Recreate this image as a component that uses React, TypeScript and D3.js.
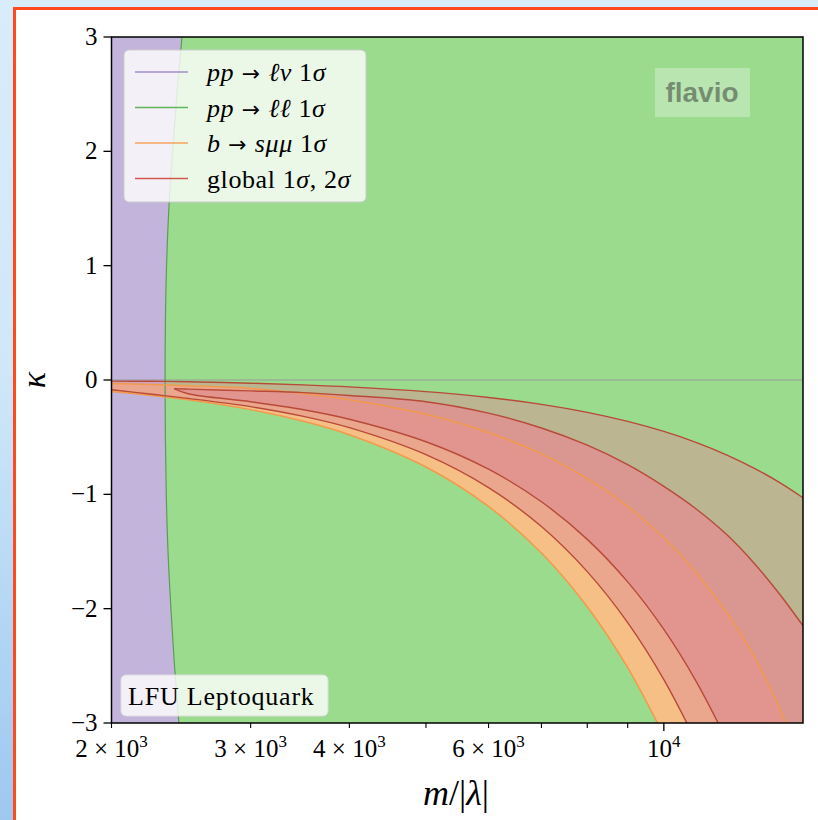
import React from 'react';
import * as d3 from 'd3';

// m/|lambda| grid for the b->smumu and global 2sigma curves
const mGrid = [2000, 2250, 2500, 3000, 3500, 4000, 5000, 6000, 7000, 8000, 9000, 10000, 11000, 12000, 13000, 14000, 15000];
// b -> s mu mu 1 sigma band
const bsmmUpper = [-0.03, -0.04, -0.05, -0.075, -0.12, -0.172, -0.3, -0.459, -0.646, -0.861, -1.105, -1.38, -1.69, -2.03, -2.41, -2.87, -3.4];
const bsmmLower = [-0.1, -0.136, -0.173, -0.259, -0.361, -0.479, -0.761, -1.106, -1.513, -1.983, -2.516, -3.112];
// global 2 sigma contour
const glob2Upper = [-0.01, -0.011, -0.015, -0.028, -0.043, -0.06, -0.102, -0.153, -0.213, -0.283, -0.362, -0.45, -0.547, -0.654, -0.77, -0.895, -1.03];
const glob2Lower = [-0.085, -0.125, -0.161, -0.233, -0.318, -0.417, -0.653, -0.941, -1.282, -1.676, -2.122, -2.62, -3.17];
// global 1 sigma contour (starts at its tip)
const m1s = [2400, 2500, 3000, 3500, 4000, 5000, 6000, 7000, 8000, 9000, 10000, 11000, 12000, 13000, 14000, 15000];
const glob1Upper = [-0.075, -0.08, -0.095, -0.11, -0.135, -0.19, -0.29, -0.42, -0.57, -0.74, -0.93, -1.13, -1.35, -1.6, -1.87, -2.15];
const glob1Lower = [-0.075, -0.12, -0.19, -0.26, -0.343, -0.54, -0.78, -1.065, -1.394, -1.766, -2.182, -2.642, -3.146];
// pp -> l nu / pp -> ll boundary
const kappaEdge = [3, 2.5, 2, 1.5, 1, 0.5, 0, -0.5, -1, -1.5, -2, -2.5, -3];
const mEdge = [2456, 2420, 2390, 2364, 2348, 2340, 2338, 2340, 2346, 2358, 2378, 2403, 2434];

const yTicks = [-3, -2, -1, 0, 1, 2, 3];
const xMinorTicks = [2000, 3000, 4000, 5000, 6000, 7000, 8000, 9000];
const xMajorTicks = [10000];
const xLabelValues = [2000, 3000, 4000, 6000, 10000];
const xLabelMant = ['2', '3', '4', '6', ''];

const legendColors = ['#a08ecb', '#62b45d', '#f6a35c', '#d4574e'];

const serif = '"Liberation Serif", "DejaVu Serif", serif';
const arrowFont = '"DejaVu Sans", sans-serif';

type P = [number, number];

export default function App() {
  const left = 111.5, right = 803, top = 37, bottom = 723;
  const x = d3.scaleLog().domain([2000, 15000]).range([left, right]);
  const y = d3.scaleLinear().domain([-3, 3]).range([bottom, top]);

  const line = d3.line<P>()
    .x(d => x(d[0]))
    .y(d => y(d[1]))
    .curve(d3.curveCatmullRom.alpha(0.5));

  const pts = (ms: number[], ks: number[]): P[] => ks.map((k, i) => [ms[i], k]);

  // closed shape: upper forward, round outside the plot, lower back
  const band = (upper: P[], lower: P[]) => {
    const a = line(upper)!;
    const b = line(lower.slice().reverse())!.replace(/^M/, 'L');
    return `${a}L${x(20000)},${y(-10)}${b}Z`;
  };

  const oUp = pts(mGrid, bsmmUpper);
  const oLo = pts(mGrid, bsmmLower);
  const r2Up = pts(mGrid, glob2Upper);
  const r2Lo = pts(mGrid, glob2Lower);
  const r1Up = pts(m1s, glob1Upper);
  const r1Lo = pts(m1s, glob1Lower);
  const edge = pts(mEdge, kappaEdge);

  const purplePath = `${line(edge)}L${x(1800)},${y(-3.5)}L${x(1800)},${y(3.5)}Z`;

  const arrow = <tspan fontFamily={arrowFont} fontSize={22}> → </tspan>;
  const legendRows = [
    <>
      <tspan fontStyle="italic">pp</tspan>{arrow}<tspan fontStyle="italic">ℓν</tspan> 1<tspan fontStyle="italic">σ</tspan>
    </>,
    <>
      <tspan fontStyle="italic">pp</tspan>{arrow}<tspan fontStyle="italic">ℓℓ</tspan> 1<tspan fontStyle="italic">σ</tspan>
    </>,
    <>
      <tspan fontStyle="italic">b</tspan>{arrow}<tspan fontStyle="italic">sμμ</tspan> 1<tspan fontStyle="italic">σ</tspan>
    </>,
    <>
      global 1<tspan fontStyle="italic">σ</tspan>, 2<tspan fontStyle="italic">σ</tspan>
    </>,
  ];

  return (
    <svg width={818} height={820} style={{ position: 'absolute', left: 0, top: 0, display: 'block' }}>
      <defs>
        <linearGradient id="bg" x1="0" y1="0" x2="0" y2="1">
          <stop offset="0%" stopColor="#d9ecfb" />
          <stop offset="45%" stopColor="#d0e7fa" />
          <stop offset="100%" stopColor="#9dc8f0" />
        </linearGradient>
        <clipPath id="plot">
          <rect x={left} y={top} width={right - left} height={bottom - top} />
        </clipPath>
      </defs>
      <rect width={818} height={820} fill="url(#bg)" />
      <rect x={14.5} y={8.5} width={900} height={900} fill="#fff" stroke="#ff4a1c" strokeWidth={3} />

      <g clipPath="url(#plot)">
        <rect x={left} y={top} width={right - left} height={bottom - top} fill="#9bdb8e" />
        <path d={purplePath} fill="#c3b4dc" />
        <path d={band(oUp, oLo)} fill="#f6bf86" />
        <path d={band(r2Up, r2Lo) + band(r1Up, r1Lo)} fill="#de9096" fillOpacity={0.5} fillRule="evenodd" />
        <path d={band(r1Up, r1Lo)} fill="#df9090" fillOpacity={0.92} />
        <line x1={left} x2={right} y1={y(0)} y2={y(0)} stroke="#9a9a9a" strokeWidth={1.2} />
        <path d={line(edge)!} fill="none" stroke="#5e9a58" strokeWidth={1.2} />
        {[oUp, oLo].map((c, i) => (
          <path key={'o' + i} d={line(c)!} fill="none" stroke="#f29a4c" strokeWidth={1.5} />
        ))}
        {[r2Up, r2Lo, r1Up, r1Lo].map((c, i) => (
          <path key={'r' + i} d={line(c)!} fill="none" stroke="#b84a38" strokeWidth={1.4} />
        ))}
      </g>

      {/* axes frame */}
      <rect x={left} y={top} width={right - left} height={bottom - top} fill="none" stroke="#000" strokeWidth={1.5} />

      {yTicks.map(t => (
        <g key={'y' + t}>
          <line x1={left - 8} x2={left} y1={y(t)} y2={y(t)} stroke="#000" strokeWidth={1.3} />
          <text x={left - 14} y={y(t) + 8} textAnchor="end" fontFamily={serif} fontSize={25}>
            {t < 0 ? '−' + Math.abs(t) : String(t)}
          </text>
        </g>
      ))}
      {xMinorTicks.map(t => (
        <line key={'xm' + t} x1={x(t)} x2={x(t)} y1={bottom} y2={bottom + 5} stroke="#000" strokeWidth={1.1} />
      ))}
      {xMajorTicks.map(t => (
        <line key={'xM' + t} x1={x(t)} x2={x(t)} y1={bottom} y2={bottom + 8} stroke="#000" strokeWidth={1.3} />
      ))}
      {xLabelValues.map((v, i) => (
        <text key={'xl' + v} x={x(v)} y={757} textAnchor="middle" fontFamily={serif} fontSize={25}>
          {xLabelMant[i] ? xLabelMant[i] + ' × 10' : '10'}
          <tspan dy={-10} fontSize={17}>{Math.floor(Math.log10(v))}</tspan>
        </text>
      ))}

      <text x={456} y={805} textAnchor="middle" fontFamily={serif} fontSize={36}>
        <tspan fontStyle="italic">m</tspan>/|<tspan fontStyle="italic">λ</tspan>|
      </text>
      <text transform={`translate(45,${y(0)}) rotate(-90)`} textAnchor="middle" fontFamily={serif} fontSize={34} fontStyle="italic">
        κ
      </text>

      {/* legend */}
      <rect x={124} y={50} width={242} height={152} rx={5} fill="#fff" fillOpacity={0.8} stroke="#cccccc" strokeWidth={1} />
      {legendRows.map((row, i) => {
        const cy = 72 + i * 35.5;
        return (
          <g key={'lg' + i}>
            <line x1={135} x2={188} y1={cy} y2={cy} stroke={legendColors[i]} strokeWidth={1.6} />
            <text x={207} y={cy + 9} fontFamily={serif} fontSize={26} letterSpacing={0.6}>{row}</text>
          </g>
        );
      })}

      {/* flavio watermark */}
      <rect x={655} y={68} width={95} height={49} fill="#fff" fillOpacity={0.3} />
      <text x={702} y={102} textAnchor="middle" fontFamily='"Liberation Sans", Arial, sans-serif' fontWeight="bold" fontSize={28} fill="#333" fillOpacity={0.5}>
        flavio
      </text>

      {/* model label */}
      <rect x={121} y={675} width={207} height={41} rx={5} fill="#fff" fillOpacity={0.8} stroke="#dddddd" strokeWidth={1} />
      <text x={128} y={705} fontFamily={serif} fontSize={26} letterSpacing={0.8}>LFU Leptoquark</text>
    </svg>
  );
}
